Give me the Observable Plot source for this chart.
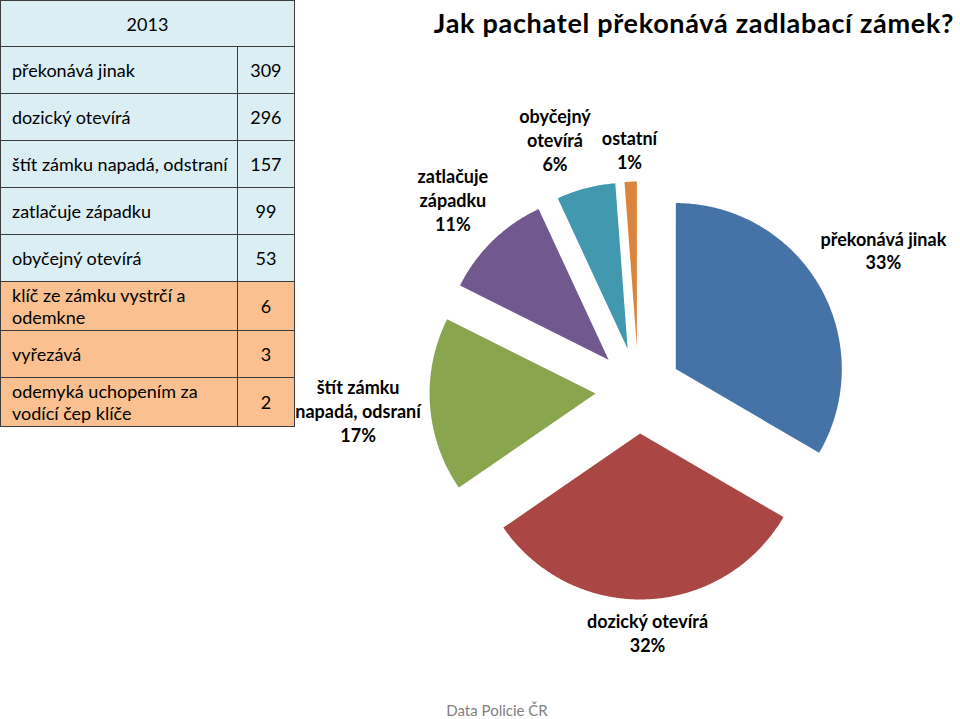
<!DOCTYPE html>
<html>
<head>
<meta charset="utf-8">
<script src="https://cdn.jsdelivr.net/npm/d3@7"></script>
<script src="https://cdn.jsdelivr.net/npm/@observablehq/plot@0.6"></script>
<style>
  body { margin: 0; background: #fff; font-family: Lato, "Open Sans", sans-serif; }
  #wrap { position: relative; width: 960px; height: 719px; overflow: hidden; }
  #chart { position: absolute; left: 0; top: 0; }
  #title { position: absolute; left: 694px; top: 8px; transform: translateX(-50%); white-space: nowrap;
           font-size: 27px; line-height: 30px; letter-spacing: 0.7px; font-weight: bold; color: #000; }
  #caption { position: absolute; left: 497px; top: 702px; transform: translateX(-50%); white-space: nowrap;
             font-size: 15px; line-height: 17px; color: #7f7f7f; }
  #tbl { position: absolute; left: 0; top: 0; border-collapse: collapse; font-size: 18px; color: #000; }
  #tbl td { border: 1px solid #3c3c3c; padding: 0 0 0 11px; line-height: 22px; white-space: pre-line; }
  #tbl td.v { text-align: center; padding: 0; }
  #tbl td.h { text-align: center; padding: 0; }
</style>
</head>
<body>
<div id="wrap">
  <div id="chart"></div>
  <table id="tbl"></table>
  <div id="title"></div>
  <div id="caption"></div>
</div>
<script>
// ---- data ----
const titleText = "Jak pachatel překonává zadlabací zámek?";
const captionText = "Data Policie ČR";
const tableYear = "2013";
const tableLabels = [
  "překonává jinak",
  "dozický otevírá",
  "štít zámku napadá, odstraní",
  "zatlačuje západku",
  "obyčejný otevírá",
  "klíč ze zámku vystrčí a\nodemkne",
  "vyřezává",
  "odemyká uchopením za\nvodící čep klíče"
];
const tableValues = [309, 296, 157, 99, 53, 6, 3, 2];
const tableGroup = ["main", "main", "main", "main", "main", "other", "other", "other"];

const pieNames = [
  "překonává jinak",
  "dozický otevírá",
  "štít zámku\nnapadá, odsraní",
  "zatlačuje\nzápadku",
  "obyčejný\notevírá",
  "ostatní"
];
const pieValues = [...tableValues.slice(0, 5), d3.sum(tableValues.slice(5))];
const pieColors = ["#4572A7", "#AA4643", "#89A54E", "#71588F", "#4198AF", "#DB843D"];

// ---- layout constants ----
const W = 960, H = 719;
const CX = 638, CY = 390, R = 166;       // pie centre and radius in px
const EXPLODE = 43 / R;                  // explosion distance in radius units
const LABEL_FONT = 18, LABEL_LH = 1.33, LABEL_GAP = 7, LABEL_PAD = 11;

// ---- title / caption ----
document.getElementById("title").textContent = titleText;
document.getElementById("caption").textContent = captionText;

// ---- table ----
const tbl = d3.select("#tbl");
const blue = "#DBEEF4", orange = "#FAC090";
tbl.append("tr").style("height", "46px").style("background", blue)
  .append("td").attr("class", "h").attr("colspan", 2).style("width", "293px").text(tableYear);
tableLabels.forEach((lab, i) => {
  const two = lab.includes("\n");
  const tr = tbl.append("tr")
    .style("height", (two ? 49 : 47) + "px")
    .style("background", tableGroup[i] === "main" ? blue : orange);
  tr.append("td").style("width", "224px").text(lab);
  tr.append("td").attr("class", "v").style("width", "56px").text(tableValues[i]);
});

// ---- pie ----
const rows = pieNames.map((name, i) => ({name, value: pieValues[i]}));
const total = d3.sum(pieValues);
const arcs = d3.pie().sort(null).value(d => d.value)(rows);

const pts = [];
arcs.forEach(a => {
  const m = (a.startAngle + a.endAngle) / 2;
  const ox = EXPLODE * Math.sin(m), oy = -EXPLODE * Math.cos(m);
  pts.push({name: a.data.name, x: ox, y: oy});
  const n = Math.max(2, Math.ceil((a.endAngle - a.startAngle) / 0.01));
  for (let k = 0; k <= n; k++) {
    const t = a.startAngle + (a.endAngle - a.startAngle) * k / n;
    pts.push({name: a.data.name, x: ox + Math.sin(t), y: oy - Math.cos(t)});
  }
});

// label placement: outside end, box edge a small gap beyond the exploded arc
const ctx = document.createElement("canvas").getContext("2d");
ctx.font = `bold ${LABEL_FONT}px Lato`;
const labels = arcs.map(a => {
  const pct = Math.round(100 * a.data.value / total) + "%";
  const text = a.data.name + "\n" + pct;
  const lines = text.split("\n");
  const w = d3.max(lines, l => ctx.measureText(l).width);
  const h = lines.length * LABEL_FONT * LABEL_LH;
  const m = (a.startAngle + a.endAngle) / 2;
  const dist = R * (1 + EXPLODE) + LABEL_GAP + Math.abs(Math.sin(m)) * w / 2 + Math.abs(Math.cos(m)) * h / 2;
  return {text, w, h, px: dist * Math.sin(m), py: -dist * Math.cos(m)};
});
// resolve overlaps between neighbouring labels: push the left one further left
for (let i = 0; i < labels.length; i++) {
  const a = labels[i], b = labels[(i + 1) % labels.length];
  if (a === b) continue;
  const vOverlap = Math.abs(a.py - b.py) < (a.h + b.h) / 2;
  const [l, r] = a.px < b.px ? [a, b] : [b, a];
  const need = (l.w + r.w) / 2 + LABEL_PAD - (r.px - l.px);
  if (vOverlap && need > 0) l.px -= need;
}
labels.forEach(d => { d.x = d.px / R; d.y = d.py / R; });

const chart = Plot.plot({
  width: W, height: H, margin: 0,
  x: {domain: [-CX / R, (W - CX) / R], range: [0, W], axis: null},
  y: {domain: [-CY / R, (H - CY) / R], range: [0, H], axis: null},
  color: {domain: pieNames, range: pieColors},
  style: {background: "transparent", fontFamily: "Lato, sans-serif"},
  marks: [
    Plot.line(pts, {x: "x", y: "y", z: "name", fill: "name", stroke: "none", curve: "linear"}),
    Plot.text(labels, {x: "x", y: "y", text: "text", fontSize: LABEL_FONT, fontWeight: "bold",
                       lineHeight: LABEL_LH, fill: "#000", textAnchor: "middle"})
  ]
});
document.getElementById("chart").append(chart);
</script>
</body>
</html>
